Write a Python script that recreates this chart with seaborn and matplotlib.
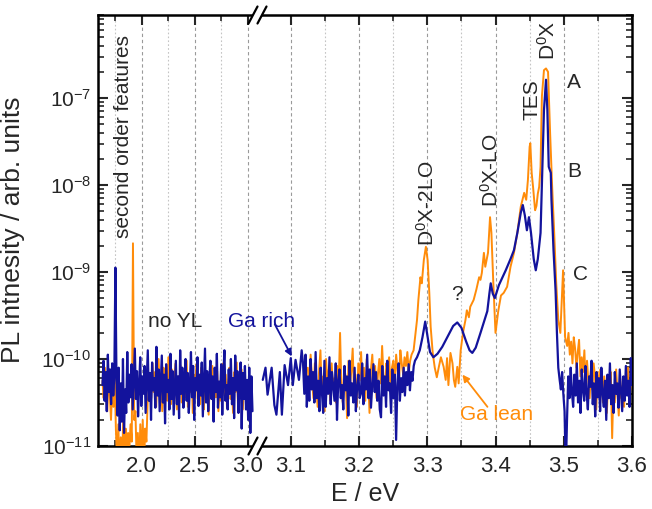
import numpy as np
import pandas as pd
import matplotlib
matplotlib.use("Agg")
import matplotlib.pyplot as plt
import seaborn as sns
from matplotlib.ticker import FixedLocator, FormatStrFormatter, LogLocator, NullFormatter
from matplotlib.lines import Line2D
from matplotlib.patches import Polygon

# ---------------- data (log10 of PL intensity, arb. units) ----------------
# left segment (1.6 - 3.0 eV), evenly sampled energy ranges
blue_left_E = (1.63, 3.045)
blue_left_log = [
    -10.30, -10.02, -10.48, -10.15, -10.60, -9.95, -10.38, -10.12, -10.52, -10.05,
    -10.42, -10.20, -8.95, -10.25, -10.65, -10.10, -10.82, -10.28, -10.72, -10.00,
    -10.85, -10.35, -10.62, -9.92, -10.50, -10.18, -10.44, -10.06, -10.58, -10.22,
    -9.88, -10.46, -10.14, -10.66, -10.30, -9.98, -10.54, -10.20, -10.40, -10.08,
    -10.62, -10.26, -9.90, -10.48, -10.16, -10.70, -10.04, -10.36, -10.22, -10.56,
    -9.86, -10.42, -10.12, -10.60, -10.28, -9.96, -10.50, -10.18, -10.74, -10.06,
    -10.38, -10.24, -10.58, -9.94, -10.46, -10.14, -10.64, -10.32, -10.02, -10.52,
    -10.20, -10.68, -9.90, -10.40, -10.10, -10.56, -10.26, -10.00, -10.48, -10.16,
    -10.62, -10.30, -9.92, -10.44, -10.08, -10.70, -10.22, -10.36, -9.98, -10.54,
    -10.18, -10.42, -10.04, -10.66, -10.28, -9.88, -10.50, -10.14, -10.60, -10.24,
    -10.02, -10.46, -10.20, -10.72, -10.10, -10.38, -9.94, -10.56, -10.26, -10.44,
    -10.06, -10.64, -10.18, -9.90, -10.48, -10.30, -10.58, -10.12, -10.40, -10.00,
    -10.52, -10.22, -10.68, -9.96, -10.36, -10.14, -10.62, -10.28, -10.04, -10.80,
    -10.16, -10.46, -10.08, -10.58, -10.24, -10.70, -10.10, -10.85, -10.20, -10.60,
]
orange_left_E = (1.63, 3.00)
orange_left_log = [
    -10.25, -10.45, -10.10, -10.35, -10.60, -10.20, -10.40, -10.70, -10.30, -10.55,
    -10.15, -10.80, -11.20, -10.75, -11.30, -10.90, -11.25, -10.70, -11.10, -10.80,
    -11.35, -10.85, -11.05, -10.75, -10.95, -8.67, -10.70, -10.60, -11.15, -10.85,
    -11.30, -10.75, -11.20, -10.70, -11.25, -10.80, -10.95, -10.50, -10.35, -10.20,
    -10.45, -10.05, -10.38, -10.15, -10.55, -10.25, -10.00, -10.42, -10.18, -10.60,
    -10.10, -10.35, -10.22, -10.48, -9.98, -10.30, -10.52, -10.12, -10.40, -10.25,
    -10.05, -10.58, -10.20, -10.36, -10.08, -10.50, -10.28, -10.15, -10.44, -10.02,
    -10.55, -10.24, -10.38, -10.12, -10.62, -10.18, -10.30, -10.06, -10.46, -10.22,
    -10.52, -10.10, -10.34, -10.58, -10.16, -10.40, -10.26, -10.64, -10.20, -10.35,
    -10.08, -10.50, -10.28, -10.44, -10.14, -10.60, -10.30, -10.48, -10.22, -10.05,
    -10.42, -10.18, -10.56, -10.26, -10.10, -10.46, -10.32, -10.62, -10.15, -10.38,
    -10.04, -10.52, -10.20, -10.40, -10.12, -10.58, -10.28, -10.44, -10.24, -10.34,
]

# right segment (3.05 - 3.6 eV) : Ga rich (blue)
blue_sparse_E = [3.059, 3.063, 3.066, 3.072, 3.076, 3.079, 3.084, 3.087, 3.091,
                 3.096, 3.100, 3.103, 3.107, 3.112, 3.116]
blue_sparse_log = [-10.24, -10.10, -10.41, -10.10, -10.53, -10.64, -10.15, -10.64,
                   -10.07, -10.30, -9.99, -10.30, -10.01, -10.24, -9.90]
blue_noise_E = (3.118, 3.282)
blue_noise_log = [
    -10.05, -10.40, -9.95, -10.55, -10.20, -10.48, -10.00, -10.35, -10.15, -10.50,
    -9.92, -10.45, -10.25, -10.60, -10.10, -10.38, -10.62, -10.02, -10.55, -10.22,
    -10.40, -9.98, -10.52, -10.15, -10.32, -10.48, -10.05, -10.70, -10.25, -10.12,
    -10.45, -10.30, -10.58, -10.08, -10.36, -10.20, -10.65, -10.02, -10.42, -10.28,
    -10.50, -10.10, -10.60, -10.32, -10.18, -10.45, -10.40, -10.05, -10.52, -10.22,
    -10.35, -9.95, -10.45, -10.12, -10.56, -10.30, -10.06, -10.38, -10.15, -10.48,
    -10.25, -10.58, -10.67, -10.08, -10.42, -10.20, -10.55, -10.02, -10.36, -10.28,
    -10.62, -10.12, -10.45, -10.18, -10.93, -10.30, -10.05, -10.48, -10.22, -10.38,
    -10.10, -10.42, -10.15, -10.30, -10.06, -10.36, -10.15, -10.25, -10.08, -10.02,
]
blue_peak_E = [3.285, 3.289, 3.293, 3.297, 3.300, 3.304, 3.309, 3.315, 3.322, 3.330,
               3.338, 3.344, 3.350, 3.357, 3.362, 3.366, 3.371, 3.378, 3.384, 3.388,
               3.391, 3.393, 3.396, 3.399, 3.405, 3.415, 3.422, 3.427, 3.432, 3.437,
               3.440, 3.443, 3.446, 3.449, 3.452, 3.456, 3.459, 3.462, 3.466, 3.469,
               3.471, 3.474, 3.476, 3.478, 3.481, 3.482, 3.485, 3.488, 3.490, 3.492]
blue_peak_log = [-9.98, -9.90, -9.75, -9.57, -9.72, -9.92, -9.98, -9.94, -9.86, -9.74,
                 -9.62, -9.58, -9.64, -9.80, -9.90, -9.93, -9.87, -9.70, -9.55, -9.45,
                 -9.25, -9.13, -9.25, -9.30, -9.15, -8.98, -8.85, -8.75, -8.55, -8.32,
                 -8.23, -8.35, -8.52, -8.37, -8.55, -8.85, -8.98, -8.85, -8.55, -7.71,
                 -7.14, -6.79, -7.14, -7.79, -7.86, -8.17, -8.75, -9.21, -9.70, -10.10]
blue_tail_E = (3.494, 3.600)
blue_tail_log = [
    -10.24, -10.35, -10.15, -10.40, -10.60, -11.30, -10.70, -10.20, -10.45, -10.10,
    -10.38, -10.55, -10.18, -10.42, -10.05, -10.50, -10.25, -10.62, -10.12, -10.35,
    -10.48, -10.08, -10.40, -10.58, -10.20, -10.32, -10.02, -10.52, -10.28, -10.66,
    -10.15, -10.44, -10.22, -10.60, -10.10, -10.38, -10.55, -10.25, -10.70, -10.18,
    -10.45, -10.05, -10.52, -10.30, -10.62, -10.15, -10.40, -10.28, -10.56, -10.12,
    -10.36, -10.60, -10.20, -10.48, -10.08, -10.42, -10.25, -10.55, -9.99, -10.30,
]

# right segment : Ga lean (orange)
orange_noise_E = (3.125, 3.277)
orange_noise_log = [
    -10.10, -10.35, -9.95, -10.25, -10.45, -10.05, -10.30, -10.55, -10.15, -9.90,
    -10.40, -10.20, -10.60, -10.00, -10.28, -10.12, -10.48, -10.05, -10.35, -10.22,
    -10.50, -10.08, -10.30, -9.70, -10.35, -10.50, -10.08, -10.22, -10.68, -10.02,
    -10.30, -10.15, -9.88, -10.42, -10.18, -10.55, -10.05, -10.25, -9.92, -10.38,
    -10.10, -10.48, -10.00, -10.20, -10.62, -10.12, -9.95, -10.32, -10.08, -10.45,
    -10.18, -10.00, -10.28, -9.85, -10.22, -10.40, -10.05, -10.15, -9.98, -10.35,
    -10.10, -10.02, -10.25, -9.95, -10.12, -10.30, -9.90, -10.05, -10.18, -9.98,
    -10.08, -9.92, -10.15, -10.02, -9.95,
]
orange_peak_E = [3.280, 3.285, 3.287, 3.290, 3.292, 3.295, 3.298, 3.3005, 3.303, 3.305,
                 3.308, 3.311, 3.314, 3.317, 3.320, 3.324, 3.327, 3.329, 3.331, 3.334,
                 3.337, 3.339, 3.341, 3.344, 3.346, 3.349, 3.351, 3.353, 3.356, 3.358,
                 3.361, 3.363, 3.368, 3.372, 3.376, 3.378, 3.380, 3.383, 3.385, 3.389,
                 3.392, 3.394, 3.397, 3.400, 3.404, 3.408, 3.412, 3.417, 3.422, 3.427,
                 3.432, 3.437, 3.442, 3.445, 3.4475, 3.450, 3.451, 3.453, 3.455, 3.458,
                 3.460, 3.462, 3.464, 3.466, 3.468, 3.471, 3.474, 3.477, 3.480, 3.483,
                 3.486, 3.489, 3.492, 3.495, 3.499, 3.502]
orange_peak_log = [-9.90, -9.55, -9.32, -9.06, -9.13, -8.86, -8.71, -8.86, -9.24, -9.63,
                   -9.93, -10.10, -10.21, -10.09, -9.98, -10.09, -10.24, -9.99, -10.30, -9.93,
                   -10.05, -10.24, -10.32, -10.09, -10.28, -9.90, -9.78, -9.67, -9.55, -9.44,
                   -9.52, -9.40, -9.32, -9.20, -9.06, -9.09, -9.01, -8.78, -8.94, -8.78,
                   -8.37, -8.55, -9.17, -9.70, -9.45, -9.27, -9.24, -9.17, -8.94, -8.78,
                   -8.55, -8.25, -8.09, -8.17, -7.94, -7.56, -7.52, -7.86, -8.02, -8.29,
                   -8.24, -8.10, -8.02, -7.79, -6.98, -6.68, -6.66, -6.70, -7.40, -8.02,
                   -8.55, -9.13, -9.55, -9.70, -8.98, -9.75]
orange_tail_E = (3.505, 3.600)
orange_tail_log = [
    -9.85, -9.70, -9.95, -9.80, -10.05, -9.75, -9.88, -10.10, -9.92, -9.78,
    -10.20, -9.98, -10.15, -9.90, -10.30, -10.02, -10.25, -10.45, -10.10, -10.35,
    -10.05, -10.20, -10.58, -10.15, -10.40, -10.12, -10.28, -10.50, -10.20, -10.38,
    -10.62, -10.25, -10.45, -10.15, -10.91, -10.30, -10.50, -10.12, -10.38, -10.65,
    -10.22, -10.45, -10.30, -10.55, -10.20, -10.35, -10.10, -10.48, -10.28, -10.25,
]

x_major_left = [2.0, 2.5, 3.0]
x_minor_left = [1.75, 2.25, 2.75]
x_major_right = [3.1, 3.2, 3.3, 3.4, 3.5, 3.6]
x_minor_right = [3.15, 3.25, 3.35, 3.45, 3.55]

BLUE = "#13139c"
ORANGE = "#ff8c0a"


def grid_series(rng, logs):
    e = np.linspace(rng[0], rng[1], len(logs))
    return e, 10.0 ** np.asarray(logs)


def frame(e, i, sample):
    return pd.DataFrame({"E": e, "I": i, "sample": sample})


eL_b, iL_b = grid_series(blue_left_E, blue_left_log)
eL_o, iL_o = grid_series(orange_left_E, orange_left_log)
df_left_blue = frame(eL_b, iL_b, "Ga rich")
df_left_orange = frame(eL_o, iL_o, "Ga lean")

eb_n, ib_n = grid_series(blue_noise_E, blue_noise_log)
eb_t, ib_t = grid_series(blue_tail_E, blue_tail_log)
df_right_blue = frame(
    np.concatenate([blue_sparse_E, eb_n, blue_peak_E, eb_t]),
    np.concatenate([10.0 ** np.array(blue_sparse_log), ib_n,
                    10.0 ** np.array(blue_peak_log), ib_t]),
    "Ga rich")
eo_n, io_n = grid_series(orange_noise_E, orange_noise_log)
eo_t, io_t = grid_series(orange_tail_E, orange_tail_log)
df_right_orange = frame(
    np.concatenate([eo_n, orange_peak_E, eo_t]),
    np.concatenate([io_n, 10.0 ** np.array(orange_peak_log), io_t]),
    "Ga lean")

# ---------------- style ----------------
sns.set_style("white")
plt.rcParams.update({
    "font.family": ["Liberation Sans", "DejaVu Sans"],
    "mathtext.fontset": "custom",
    "mathtext.rm": "Liberation Sans",
    "mathtext.it": "Liberation Sans:italic",
    "mathtext.bf": "Liberation Sans:bold",
    "mathtext.default": "regular",
    "axes.linewidth": 1.8,
})

W, H = 652, 509
fig = plt.figure(figsize=(W / 100, H / 100), dpi=100)


def fx(px):
    return px / W


def fy(py):
    return 1 - py / H


X0, XB, X1 = 98, 258, 632
YT, YB = 15, 446
axL = fig.add_axes([fx(X0), fy(YB), fx(XB) - fx(X0), fy(YT) - fy(YB)])
axR = fig.add_axes([fx(XB), fy(YB), fx(X1) - fx(XB), fy(YT) - fy(YB)])

LW_B = 1.6
LW_O = 1.4
for ax, dfo, dfb in [(axL, df_left_orange, df_left_blue), (axR, df_right_orange, df_right_blue)]:
    sns.lineplot(data=dfo, x="E", y="I", ax=ax, color=ORANGE, lw=LW_O,
                 estimator=None, sort=False, legend=False, zorder=3)
    sns.lineplot(data=dfb, x="E", y="I", ax=ax, color=BLUE, lw=LW_B,
                 estimator=None, sort=False, legend=False, zorder=4)

for ax in (axL, axR):
    ax.set_yscale("log")
    ax.set_ylim(1e-11, 9e-7)
    ax.yaxis.set_major_locator(LogLocator(base=10, numticks=20))
    ax.yaxis.set_minor_locator(LogLocator(base=10, subs=np.arange(2, 10), numticks=20))
    ax.yaxis.set_minor_formatter(NullFormatter())
    ax.set_xlabel("")
    ax.set_ylabel("")
    ax.tick_params(which="major", direction="in", length=7, width=1.5,
                   top=True, bottom=True, labelsize=16, pad=7)
    ax.tick_params(which="minor", direction="in", length=4, width=1.2,
                   top=True, bottom=True)
    ax.tick_params(axis="y", which="major", labelsize=15, pad=5)
    ax.grid(False)
    ax.xaxis.set_major_formatter(FormatStrFormatter("%.1f"))
    ax.xaxis.grid(True, which="major", color="#9a9a9a", ls=(0, (3, 2.5)), lw=0.8)
    ax.xaxis.grid(True, which="minor", color="#c4c4c4", ls=(0, (1.5, 2)), lw=0.8)
    ax.set_axisbelow(True)
    for s in ax.spines.values():
        s.set_linewidth(1.8)
        s.set_color("black")

axL.set_xlim(1.588, 3.097)
axL.xaxis.set_major_locator(FixedLocator(x_major_left))
axL.xaxis.set_minor_locator(FixedLocator(x_minor_left))
axL.spines["right"].set_visible(False)
axL.tick_params(axis="y", which="both", left=True, right=False)

axR.set_xlim(3.052, 3.6)
axR.xaxis.set_major_locator(FixedLocator(x_major_right))
axR.xaxis.set_minor_locator(FixedLocator(x_minor_right))
axR.spines["left"].set_visible(False)
axR.tick_params(axis="y", which="both", left=False, right=True, labelleft=False, labelright=False)

axL.set_ylabel("PL intnesity / arb. units", fontsize=19)
axL.yaxis.set_label_coords((25 - X0) / (XB - X0), (YB - 230) / (YB - YT))
fig.text(fx(365), fy(494), "E / eV", ha="center", va="center", fontsize=18)

# axis break marks
for yc in (YB, YT):
    c1, c2 = 253, 262
    dx, dy = 4.5, 8.5
    poly = Polygon([(fx(c1 - dx), fy(yc + dy)), (fx(c1 + dx), fy(yc - dy)),
                    (fx(c2 + dx), fy(yc - dy)), (fx(c2 - dx), fy(yc + dy))],
                   closed=True, transform=fig.transFigure, facecolor="white",
                   edgecolor="none", zorder=10)
    fig.add_artist(poly)
    for c in (c1, c2):
        fig.add_artist(Line2D([fx(c - dx), fx(c + dx)], [fy(yc + dy), fy(yc - dy)],
                              transform=fig.transFigure, color="black", lw=1.6, zorder=11))

# annotations
FS = 15
axL.text(1.824, 10 ** -8.61, "second order features", rotation=90, ha="center",
         va="bottom", fontsize=FS)
axL.text(2.314, 10 ** -9.57, "no YL", ha="center", va="center", fontsize=FS)
axR.text(3.057, 10 ** -9.57, "Ga rich", ha="center", va="center", fontsize=FS,
         color=BLUE, clip_on=False)
axR.annotate("", xy=(3.1015, 10 ** -9.97), xytext=(3.0765, 10 ** -9.60),
             annotation_clip=False,
             arrowprops=dict(arrowstyle="-|>", color=BLUE, lw=1.3, mutation_scale=10,
                             shrinkA=0, shrinkB=0))
axR.text(3.299, 10 ** -8.70, r"D$^0$X-2LO", rotation=90, ha="center", va="bottom", fontsize=FS)
axR.text(3.3926, 10 ** -8.25, r"D$^0$X-LO", rotation=90, ha="center", va="bottom", fontsize=FS)
axR.text(3.453, 10 ** -7.25, "TES", rotation=90, ha="center", va="bottom", fontsize=FS)
axR.text(3.476, 10 ** -6.56, r"D$^0$X", rotation=90, ha="center", va="bottom", fontsize=FS)
axR.text(3.515, 10 ** -6.82, "A", ha="center", va="center", fontsize=FS)
axR.text(3.515, 10 ** -7.85, "B", ha="center", va="center", fontsize=FS)
axR.text(3.525, 10 ** -9.03, "C", ha="center", va="center", fontsize=FS)
axR.text(3.344, 10 ** -9.26, "?", ha="center", va="center", fontsize=FS)
axR.text(3.402, 10 ** -10.64, "Ga lean", ha="center", va="center", fontsize=FS, color=ORANGE)
axR.annotate("", xy=(3.3515, 10 ** -10.18), xytext=(3.3882, 10 ** -10.55),
             arrowprops=dict(arrowstyle="-|>", color=ORANGE, lw=1.3, mutation_scale=10,
                             shrinkA=0, shrinkB=0))

fig.savefig("out.png", dpi=100)
